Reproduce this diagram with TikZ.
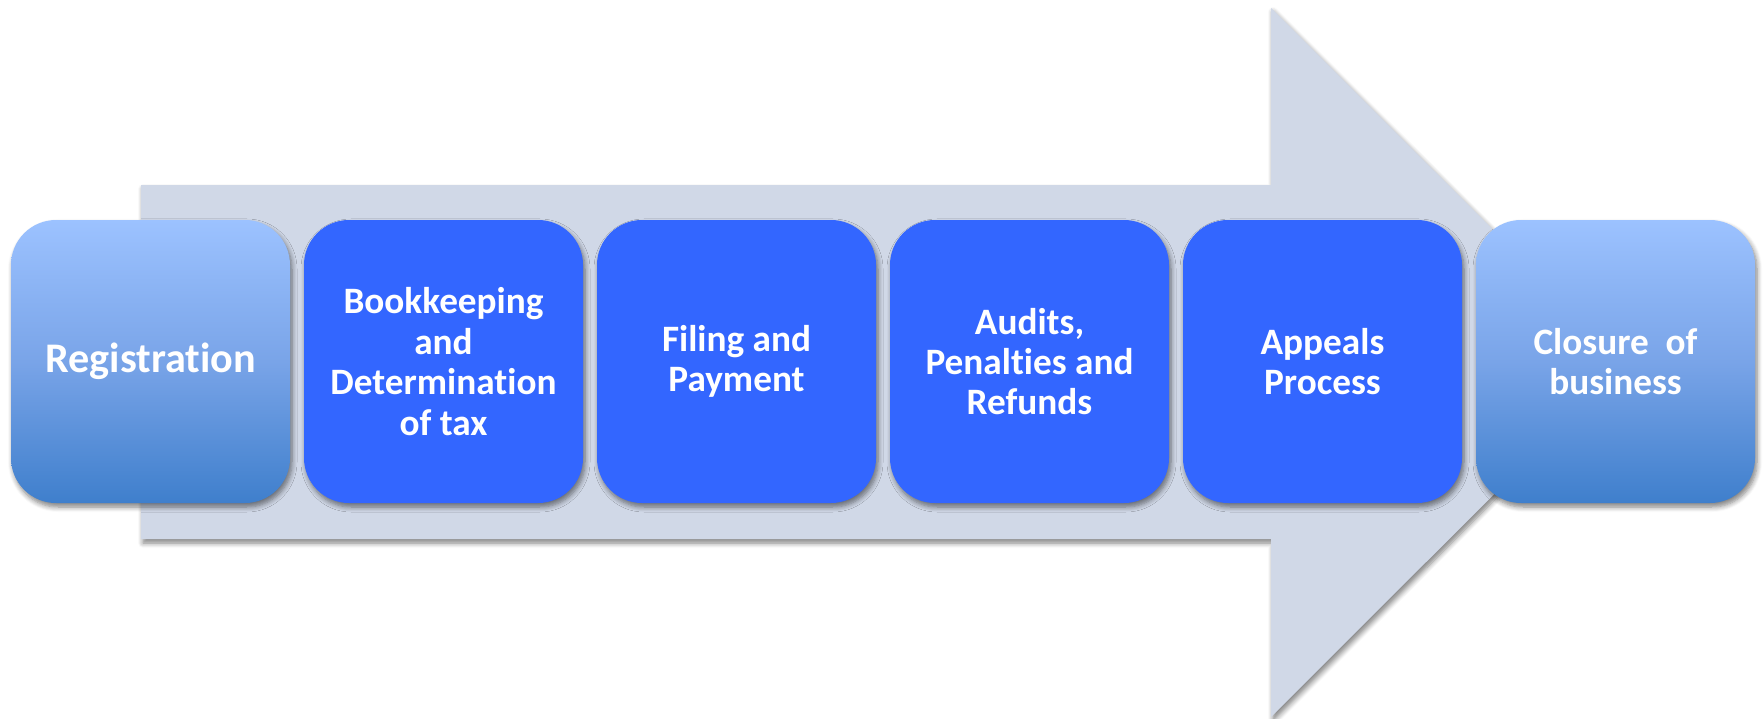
\documentclass[tikz,border=0pt]{standalone}
\usepackage{fontspec}
\setmainfont[Ligatures=NoCommon]{Carlito}
\usetikzlibrary{positioning,shadows.blur}
\definecolor{arrowgray}{HTML}{D0D8E7}
\definecolor{stepblue}{HTML}{3366FF}
\definecolor{lighttop}{HTML}{9CC2FF}
\definecolor{lightmid}{HTML}{79A4E8}
\definecolor{lightbot}{HTML}{3F7FCC}
\begin{document}
\begin{tikzpicture}[
        soft/.style = {blur shadow={shadow xshift=0.02cm, shadow yshift=-0.04cm,
            shadow blur radius=0.05cm, shadow blur steps=6, shadow opacity=50}},
        box/.style = {soft, rounded corners=0.45cm, minimum width=2.79cm, minimum height=2.83cm,
            inner sep=0pt, outer sep=0pt, align=center, text=white,
            font=\bfseries\fontsize{10.6}{11.5}\selectfont},
        darkbox/.style = {box, fill=stepblue},
        lightbox/.style = {box, top color=lighttop, bottom color=lightbot, middle color=lightmid},
        node distance = 0.14cm]
        \useasboundingbox (0, 0) rectangle (17.64, 7.18);
        \fill[arrowgray, soft] (1.41, 1.79) -- (1.41, 5.33) -- (12.71, 5.33) -- (12.71, 7.10)
            -- (16.26, 3.555) -- (12.71, 0.01) -- (12.71, 1.79) -- cycle;
        \node[lightbox] (reg) at (1.505, 3.565) {\fontsize{12}{13}\selectfont Registration};
        \node[darkbox, right = of reg] (book) {Bookkeeping\\and\\Determination\\of tax};
        \node[darkbox, right = of book] (fil) {Filing and\\Payment};
        \node[darkbox, right = of fil] (aud) {Audits,\\Penalties and\\Refunds};
        \node[darkbox, right = of aud] (app) {Appeals\\Process};
        \node[lightbox, right = of app] (clo) {Closure\ \ of\\business};
\end{tikzpicture}
\end{document}
